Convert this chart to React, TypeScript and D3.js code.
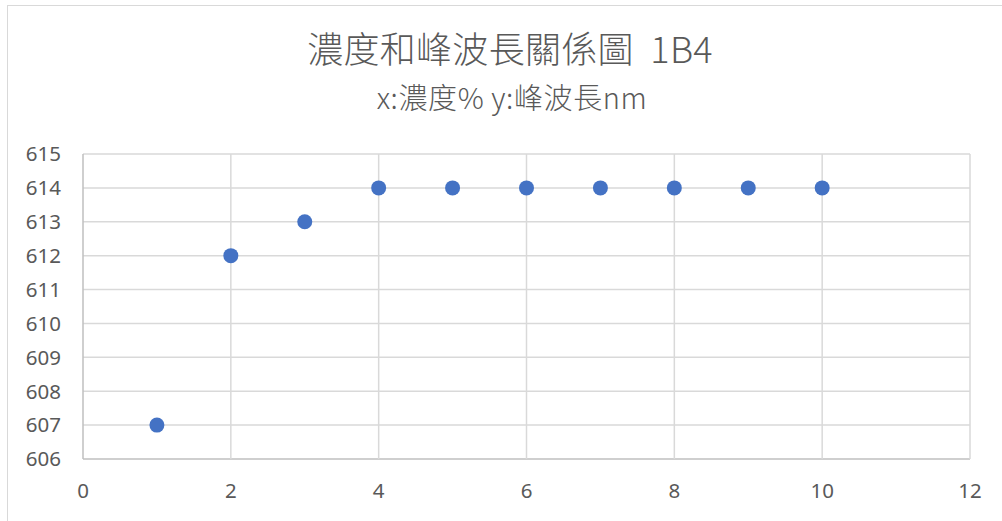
import React from "react";
import * as d3 from "d3";

const concentration = [1, 2, 3, 4, 5, 6, 7, 8, 9, 10];
const peakWavelength = [607, 612, 613, 614, 614, 614, 614, 614, 614, 614];
const xTicks = [0, 2, 4, 6, 8, 10, 12];
const yTicks = [606, 607, 608, 609, 610, 611, 612, 613, 614, 615];
const title = "濃度和峰波長關係圖\u00a0\u00a01B4";
const subtitle = "x:濃度% y:峰波長nm";

const W = 1002;
const H = 521;
const plot = { left: 83, right: 970, top: 154, bottom: 459 };

export default function App() {
  const x = d3.scaleLinear().domain([0, 12]).range([plot.left, plot.right]);
  const y = d3.scaleLinear().domain([606, 615]).range([plot.bottom, plot.top]);
  const labelFont = "'Noto Sans', 'Open Sans', sans-serif";
  const cjkFont = "'Noto Sans CJK TC', 'Noto Sans CJK SC', sans-serif";

  return (
    <svg
      width={W}
      height={H}
      style={{ position: "absolute", left: 0, top: 0, display: "block" }}
    >
      <rect x={0} y={0} width={W} height={H} fill="#fff" />
      <rect x={7.5} y={5.5} width={W + 10} height={H + 10} fill="#fff" stroke="#d9d9d9" strokeWidth={1} />

      <text
        x={510}
        y={63}
        textAnchor="middle"
        fontFamily={cjkFont}
        fontWeight={300}
        fontSize={36}
        letterSpacing={0.3}
        fill="#595959"
      >
        {title}
      </text>
      <text
        x={512}
        y={109}
        textAnchor="middle"
        fontFamily={cjkFont}
        fontWeight={300}
        fontSize={29}
        letterSpacing={0.6}
        fill="#595959"
      >
        {subtitle}
      </text>

      {/* gridlines */}
      {yTicks.map((t) => (
        <line
          key={"gy" + t}
          x1={plot.left}
          x2={plot.right}
          y1={y(t)}
          y2={y(t)}
          stroke={t === 606 ? "#bfbfbf" : "#d9d9d9"}
          strokeWidth={1.5}
        />
      ))}
      {xTicks.map((t) => (
        <line
          key={"gx" + t}
          x1={x(t)}
          x2={x(t)}
          y1={plot.top}
          y2={plot.bottom}
          stroke={t === 0 ? "#bfbfbf" : "#d9d9d9"}
          strokeWidth={1.5}
        />
      ))}

      {/* tick labels */}
      {yTicks.map((t) => (
        <text
          key={"ly" + t}
          x={61}
          y={y(t)}
          dy="0.36em"
          textAnchor="end"
          fontFamily={labelFont}
          fontSize={20.5}
          fill="#595959"
        >
          {t}
        </text>
      ))}
      {xTicks.map((t) => (
        <text
          key={"lx" + t}
          x={x(t)}
          y={498}
          textAnchor="middle"
          fontFamily={labelFont}
          fontSize={20.5}
          fill="#595959"
        >
          {t}
        </text>
      ))}

      {/* data points */}
      {concentration.map((c, i) => (
        <circle key={"p" + i} cx={x(c)} cy={y(peakWavelength[i])} r={7.5} fill="#4472C4" />
      ))}
    </svg>
  );
}
